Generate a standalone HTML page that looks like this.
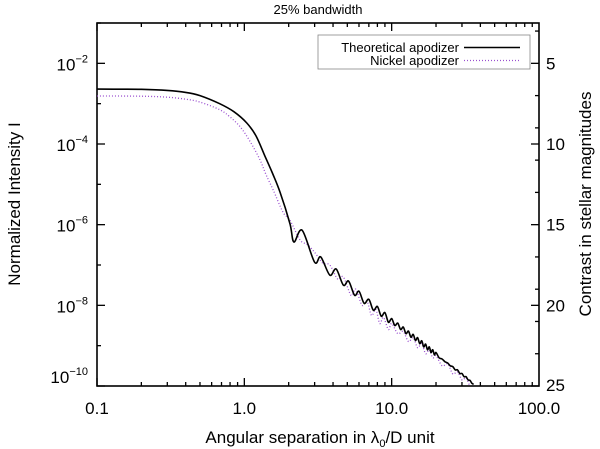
<!DOCTYPE html>
<html><head><meta charset="utf-8"><style>
body{margin:0;background:#fff}
svg{display:block;font-family:"Liberation Sans","DejaVu Sans",sans-serif}
</style></head><body>
<svg id="chart" width="600" height="449" viewBox="0 0 600 449">
<rect width="600" height="449" fill="#fff"/>
<text x="318" y="14" font-size="13" text-anchor="middle">25% bandwidth</text>
<g id="axes"></g>
<g id="series"></g>
<rect x="318" y="35" width="212" height="34" fill="#fff" stroke="#888" stroke-width="0.8"/>
<text x="459" y="52" font-size="13" text-anchor="end">Theoretical apodizer</text>
<line x1="464" y1="47.5" x2="520" y2="47.5" stroke="#000" stroke-width="1.6"/>
<text x="459" y="65" font-size="13" text-anchor="end">Nickel apodizer</text>
<line x1="464" y1="60.5" x2="520" y2="60.5" stroke="#9a4fd0" stroke-width="1.3" stroke-dasharray="1,2"/>
<text x="320" y="443" font-size="17" text-anchor="middle">Angular separation in λ<tspan font-size="11" dy="4">0</tspan><tspan dy="-4">/D unit</tspan></text>
<text transform="translate(20,204) rotate(-90)" font-size="17" text-anchor="middle">Normalized Intensity I</text>
<text transform="translate(591,204) rotate(-90)" font-size="17" text-anchor="middle">Contrast in stellar magnitudes</text>
</svg>
<script>
const xMajorTicks=[0.1,1,10,100];
const xTickLabels=["0.1","1.0","10.0","100.0"];
const yMajorExps=[-2,-4,-6,-8,-10];
const magMajor=[5,10,15,20,25];
const theoX=[0.1,0.2,0.3,0.4,0.5,0.68,0.85,1.04,1.2,1.38,1.55,1.75,2.04,2.17,2.47,3.0,3.3,3.8,4.2,4.7,5.1,5.6,6.0,6.5,7.0,7.5,8.0,8.5,9.0,9.5,10,10.5,11,11.5,12,12.5,13,13.5,14,14.5,15,15.5,16,16.5,17,17.5,18,18.5,19,19.5,20,21,22,23,24,25,26,27,28,29,30,31,32,33,34,35,36];
const theoY=[-2.64,-2.645,-2.67,-2.72,-2.8,-3.0,-3.2,-3.48,-3.8,-4.3,-4.72,-5.2,-5.98,-6.43,-6.14,-6.93,-6.8,-7.25,-7.1,-7.5,-7.4,-7.75,-7.65,-7.95,-7.85,-8.12,-8.03,-8.27,-8.18,-8.42,-8.33,-8.5,-8.44,-8.6,-8.54,-8.7,-8.64,-8.79,-8.72,-8.87,-8.8,-8.95,-8.88,-9.03,-8.96,-9.1,-9.03,-9.17,-9.1,-9.23,-9.17,-9.3,-9.33,-9.4,-9.43,-9.5,-9.52,-9.6,-9.6,-9.69,-9.69,-9.77,-9.77,-9.85,-9.86,-9.93,-9.96];
const nickX=[0.1,0.2,0.3,0.4,0.5,0.68,0.8,0.94,1.1,1.28,1.4,1.57,1.83,2.04,2.39,2.7,3.02,3.4,3.8,4.3,4.7,5.3,5.7,6.3,6.8,7.3,7.8,8.3,8.8,9.5,10,11,12,13,14,15,16,17,18,19,20,22,24,26,28,30,32,34,36];
const nickY=[-2.81,-2.815,-2.84,-2.89,-2.96,-3.15,-3.33,-3.58,-3.95,-4.4,-4.75,-5.14,-5.69,-5.89,-6.38,-6.5,-6.7,-6.95,-7.0,-7.35,-7.3,-7.75,-7.6,-8.0,-7.9,-8.25,-8.1,-8.45,-8.3,-8.6,-8.45,-8.7,-8.65,-8.9,-8.8,-9.05,-8.95,-9.2,-9.1,-9.3,-9.25,-9.5,-9.45,-9.7,-9.65,-9.85,-9.8,-10.0,-10.05];
const L=97,R=539,T=23,B=386;
function sx(x){return L+(Math.log10(x)+1)/3*(R-L);}
function sy(l){return T+(-1-l)/9*(B-T);}
function smag(m){return sy(-m/2.5);}
const NS="http://www.w3.org/2000/svg";
const axes=document.getElementById('axes'),series=document.getElementById('series');
function mk(tag,attrs,parent){const e=document.createElementNS(NS,tag);for(const k in attrs)e.setAttribute(k,attrs[k]);parent.appendChild(e);return e;}
const frame=mk('rect',{x:L,y:T,width:R-L,height:B-T,fill:'none',stroke:'#000','stroke-width':1.6},axes);


for(let d=-1;d<2;d++){for(let k=1;k<10;k++){const v=k*Math.pow(10,d);const px=sx(v);const len=k==1?8:4;
 const t1=mk('line',{x1:px,y1:B,x2:px,y2:B-len,stroke:'#000','stroke-width':1.3},axes);
 
 
 const t2=mk('line',{x1:px,y1:T,x2:px,y2:T+len,stroke:'#000','stroke-width':1.3},axes);
 
 }}
xMajorTicks.forEach((v,i)=>{const t=mk('text',{x:sx(v),y:414,'font-size':17,'text-anchor':'middle'},axes);t.textContent=xTickLabels[i];
 
 });
for(let e=-1;e>=-10;e--){const py=sy(e);const major=e%2==0;
 const t=mk('line',{x1:L,y1:py,x2:L+(major?8:4),y2:py,stroke:'#000','stroke-width':1.3},axes);
 
 }
yMajorExps.forEach(e=>{let py=sy(e)+7;if(e==-10)py=383;
 const t=mk('text',{x:88,y:py,'font-size':17,'text-anchor':'end'},axes);
 
 
 t.innerHTML='10<tspan font-size="11" dy="-8">'+'\u2212'+(-e)+'</tspan>';});
for(let m=3;m<=25;m++){if(m%2==0&&m%5!=0)continue;const py=smag(m);const major=m%5==0;
 const t=mk('line',{x1:R,y1:py,x2:R-(major?8:4),y2:py,stroke:'#000','stroke-width':1.3},axes);
 
 }
magMajor.forEach(m=>{const t=mk('text',{x:546,y:Math.min(smag(m)+6,391),'font-size':17},axes);t.textContent=m;
 
 });
const cp=mk('clipPath',{id:'clip'},series);mk('rect',{x:L,y:T,width:R-L,height:B-T},cp);
function smoothPath(X,Y){const P=X.map((x,i)=>[sx(x),sy(Y[i])]);let d='M'+P[0][0].toFixed(1)+','+P[0][1].toFixed(1);
 for(let i=0;i<P.length-1;i++){const p0=P[Math.max(0,i-1)],p1=P[i],p2=P[i+1],p3=P[Math.min(P.length-1,i+2)];
  const c1=[p1[0]+(p2[0]-p0[0])/6,p1[1]+(p2[1]-p0[1])/6],c2=[p2[0]-(p3[0]-p1[0])/6,p2[1]-(p3[1]-p1[1])/6];
  d+=' C'+c1[0].toFixed(1)+','+c1[1].toFixed(1)+' '+c2[0].toFixed(1)+','+c2[1].toFixed(1)+' '+p2[0].toFixed(1)+','+p2[1].toFixed(1);}
 return d;}
const pn=mk('path',{d:smoothPath(nickX,nickY),fill:'none',stroke:'#9a4fd0','stroke-width':1.3,'stroke-dasharray':'1,2','clip-path':'url(#clip)'},series);


const pt=mk('path',{d:smoothPath(theoX,theoY),fill:'none',stroke:'#000','stroke-width':1.6,'stroke-linejoin':'round','clip-path':'url(#clip)'},series);


</script>
</body></html>
